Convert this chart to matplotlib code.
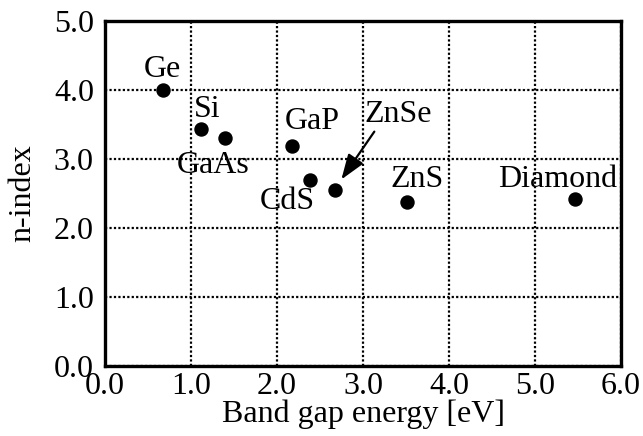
import matplotlib
matplotlib.use("Agg")
import matplotlib.pyplot as plt

# band gap [eV] vs refractive index
materials = ["Ge", "Si", "GaAs", "GaP", "CdS", "ZnSe", "ZnS", "Diamond"]
band_gap = [0.67, 1.12, 1.40, 2.18, 2.38, 2.67, 3.51, 5.47]
n_index = [4.0, 3.43, 3.30, 3.19, 2.70, 2.55, 2.37, 2.42]

# where each name sits (data coords)
label_pos = {
    "Ge": (0.67, 4.29),
    "Si": (1.19, 3.72),
    "GaAs": (1.26, 2.90),
    "GaP": (2.41, 3.54),
    "CdS": (2.12, 2.38),
    "ZnSe": (3.41, 3.64),
    "ZnS": (3.63, 2.70),
    "Diamond": (5.26, 2.70),
}

FS = 23

plt.rcParams["font.family"] = ["Liberation Serif", "DejaVu Serif"]

fig = plt.figure(figsize=(6.43, 4.36), dpi=100)
ax = fig.add_axes([0.1633, 0.1606, 0.8025, 0.7912])

ax.scatter(band_gap, n_index, s=88, color="black", zorder=3)

for name, x, y in zip(materials, band_gap, n_index):
    lx, ly = label_pos[name]
    ax.text(lx, ly, name, fontsize=FS, ha="center", va="center")
    if name == "ZnSe":
        ax.annotate("", xy=(x + 0.06, y + 0.12), xytext=(3.15, 3.43),
                    arrowprops=dict(arrowstyle="-|>,head_length=0.7,head_width=0.25",
                                    color="black", lw=1.6, mutation_scale=22))

ax.set_xlim(0, 6)
ax.set_ylim(0, 5)
ax.set_xticks([0, 1, 2, 3, 4, 5, 6])
ax.set_yticks([0, 1, 2, 3, 4, 5])
ax.set_xticklabels([f"{v:.1f}" for v in ax.get_xticks()])
ax.set_yticklabels([f"{v:.1f}" for v in ax.get_yticks()])
ax.tick_params(length=0, labelsize=FS)
ax.tick_params(axis="x", pad=4)
ax.tick_params(axis="y", pad=8)

ax.grid(True, color="black", linestyle=(0, (1, 1)), linewidth=1.6)
ax.set_axisbelow(True)
for sp in ax.spines.values():
    sp.set_linewidth(2.4)

ax.set_xlabel("Band gap energy [eV]", fontsize=FS, labelpad=-1)
ax.set_ylabel("n-index", fontsize=FS, labelpad=12)

fig.savefig("out.png", dpi=100)
